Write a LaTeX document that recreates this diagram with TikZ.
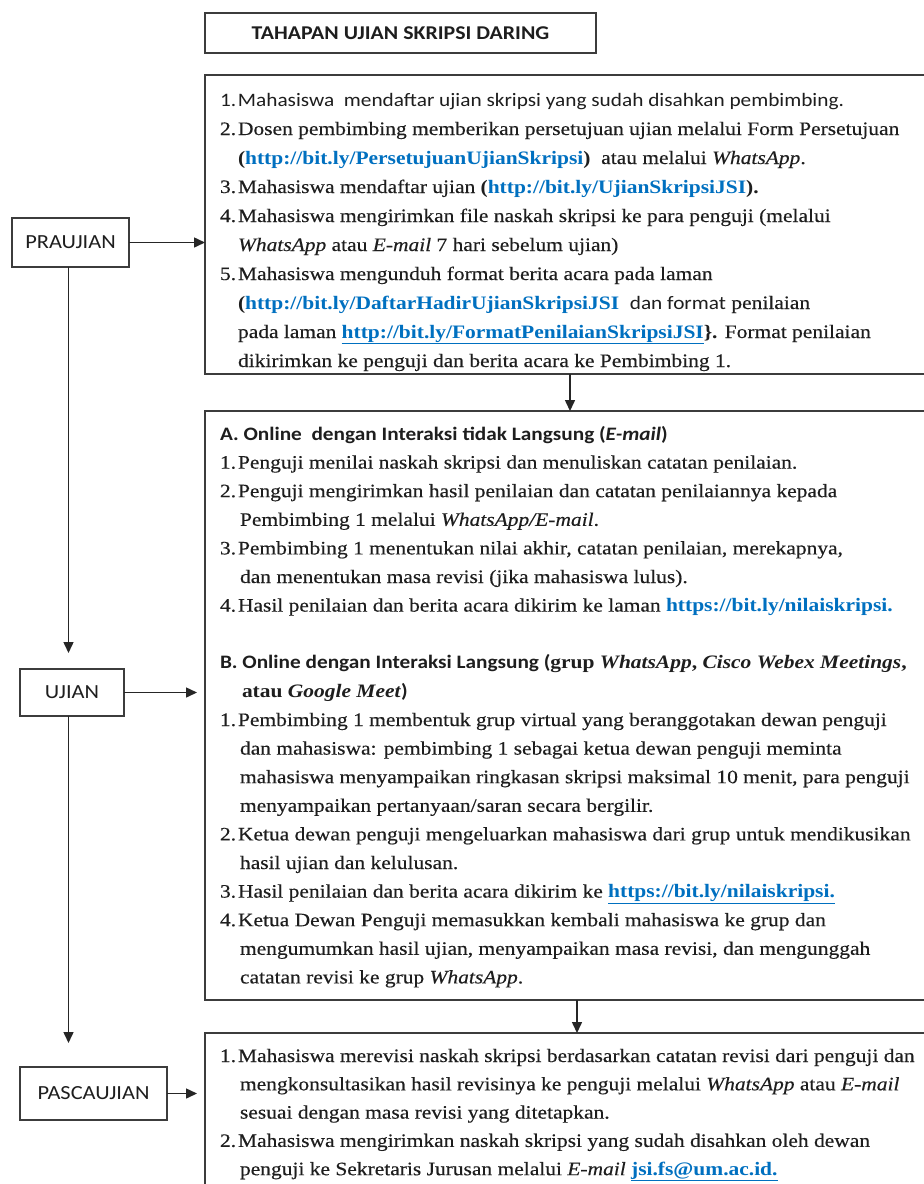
\documentclass[tikz,border=0pt]{standalone}
\usepackage{fontspec}
\setmainfont{Liberation Serif}[FakeStretch=1.13, UprightFeatures={FakeBold=0.3}, ItalicFeatures={FakeBold=0.3}]
\newfontfamily\calib{Carlito}[FakeStretch=1.12]
\usetikzlibrary{arrows.meta}
\definecolor{linkblue}{RGB}{0,112,192}
\definecolor{boxline}{RGB}{60,60,60}
\definecolor{txtc}{RGB}{30,30,30}
\newcommand\lk[1]{\textcolor{linkblue}{\textbf{#1}}}
\newcommand\ulk[1]{\textcolor{linkblue}{\underline{\textbf{#1}}}}
\newcommand\nb[1]{\makebox[18pt][l]{#1}}
\newcommand\Ln[4]{\node[ln] (#1) at (#2,#3) {#4};}
\tikzset{
  box/.style={draw=boxline, line width=1.4pt, inner sep=0pt, outer sep=0pt, anchor=north west},
  lbl/.style={box, font=\calib\fontsize{20}{24}\selectfont, text=txtc},
  ln/.style={anchor=base west, inner sep=0pt, outer sep=0pt, font=\fontsize{19}{23}\selectfont, text=txtc},
  arr/.style={draw=black!85, line width=1.5pt, -{Triangle[length=11pt,width=10pt]}},
}
\begin{document}
\begin{tikzpicture}[x=1pt,y=-1pt]
\useasboundingbox (0,0) rectangle (924,1184);
\clip (0,0) rectangle (924,1184);
\fill[white] (0,0) rectangle (924,1184);

% boxes
\node[box, minimum width=391pt, minimum height=40pt, font=\calib\bfseries\fontsize{19.5}{23}\selectfont, text=txtc] (title) at (205,13) {TAHAPAN UJIAN SKRIPSI DARING};
\node[box, minimum width=730pt, minimum height=299pt] (b1) at (205,75) {};
\node[box, minimum width=744pt, minimum height=589pt] (b2) at (205,411) {};
\node[box, minimum width=744pt, minimum height=180pt] (b3) at (205,1033) {};
\node[lbl, minimum width=117pt, minimum height=49pt] (pra) at (12,218) {PRAUJIAN};
\node[lbl, minimum width=104pt, minimum height=47pt] (uj) at (20,669) {UJIAN};
\node[lbl, minimum width=147pt, minimum height=53pt] (pasc) at (20,1067) {PASCAUJIAN};
\coordinate (col) at (68.5,0);

% connectors
\draw[arr] (pra.east) -- (pra.east -| b1.west);
\draw[arr, shorten >=8pt] (uj.east) -- (uj.east -| b2.west);
\draw[arr, shorten >=8pt] (pasc.east) -- (pasc.east -| b3.west);
\draw[arr, shorten >=16pt] (pra.south -| col) -- (col |- uj.north);
\draw[arr, shorten >=24pt] (uj.south -| col) -- (col |- pasc.north);
\draw[arr] (b1.south) -- (b1.south |- b2.north);
\draw[arr] (b2.south) -- (b2.south |- b3.north);

% box 1 text
\begin{scope}
\clip (b1.north west) rectangle (b1.south east);
\Ln{p1}{220}{106}{{\calib\nb{1.}Mahasiswa\ \ mendaftar ujian skripsi yang sudah disahkan pembimbing.}}
\Ln{p2}{220}{135}{\nb{2.}Dosen pembimbing memberikan persetujuan ujian melalui Form Persetujuan}
\Ln{p2b}{238}{164}{\textbf{(}\lk{http://bit.ly/PersetujuanUjianSkripsi}\textbf{)}\ \ atau melalui \textit{WhatsApp}.}
\Ln{p3}{220}{193}{\nb{3.}Mahasiswa mendaftar ujian \textbf{(}\lk{http://bit.ly/UjianSkripsiJSI}\textbf{).}}
\Ln{p4}{220}{222}{\nb{4.}Mahasiswa mengirimkan file naskah skripsi ke para penguji (melalui}
\Ln{p4b}{238}{251}{\textit{WhatsApp} atau \textit{E-mail} 7 hari sebelum ujian)}
\Ln{p5}{220}{280}{\nb{5.}Mahasiswa mengunduh format berita acara pada laman}
\Ln{p5b}{238}{309}{\textbf{(}\lk{http://bit.ly/DaftarHadirUjianSkripsiJSI}\ \ {\calib dan format} penilaian}
\Ln{p5c}{238}{338}{pada laman \ulk{http://bit.ly/FormatPenilaianSkripsiJSI}\textbf{\}.} Format penilaian}
\Ln{p5d}{238}{367}{dikirimkan ke penguji dan berita acara ke Pembimbing 1.}
\end{scope}

% box 2 text
\Ln{ah}{220}{440}{{\calib\bfseries A. Online\ \ dengan Interaksi tidak Langsung (\textit{E-mail})}}
\Ln{a1}{220}{468.6}{\nb{1.}Penguji menilai naskah skripsi dan menuliskan catatan penilaian.}
\Ln{a2}{220}{497.2}{\nb{2.}Penguji mengirimkan hasil penilaian dan catatan penilaiannya kepada}
\Ln{a2b}{240}{525.8}{Pembimbing 1 melalui \textit{WhatsApp/E-mail}.}
\Ln{a3}{220}{554.4}{\nb{3.}Pembimbing 1 menentukan nilai akhir, catatan penilaian, merekapnya,}
\Ln{a3b}{240}{583}{dan menentukan masa revisi (jika mahasiswa lulus).}
\Ln{a4}{220}{611.6}{\nb{4.}Hasil penilaian dan berita acara dikirim ke laman \lk{https://bit.ly/nilaiskripsi.}}
\Ln{bh}{220}{668.8}{{\calib\bfseries B. Online dengan Interaksi Langsung (}\textbf{grup \textit{WhatsApp}, \textit{Cisco Webex Meetings},}}
\Ln{bhb}{242}{697.4}{\textbf{atau \textit{Google Meet}}{\calib\bfseries )}}
\Ln{c1}{220}{726}{\nb{1.}Pembimbing 1 membentuk grup virtual yang beranggotakan dewan penguji}
\Ln{c1b}{240}{754.6}{dan mahasiswa: pembimbing 1 sebagai ketua dewan penguji meminta}
\Ln{c1c}{240}{783.2}{mahasiswa menyampaikan ringkasan skripsi maksimal 10 menit, para penguji}
\Ln{c1d}{240}{811.8}{menyampaikan pertanyaan/saran secara bergilir.}
\Ln{c2}{220}{840.4}{\nb{2.}Ketua dewan penguji mengeluarkan mahasiswa dari grup untuk mendikusikan}
\Ln{c2b}{240}{869}{hasil ujian dan kelulusan.}
\Ln{c3}{220}{897.6}{\nb{3.}Hasil penilaian dan berita acara dikirim ke \ulk{https://bit.ly/nilaiskripsi.}}
\Ln{c4}{220}{926.2}{\nb{4.}Ketua Dewan Penguji memasukkan kembali mahasiswa ke grup dan}
\Ln{c4b}{240}{954.8}{mengumumkan hasil ujian, menyampaikan masa revisi, dan mengunggah}
\Ln{c4c}{240}{983.4}{catatan revisi ke grup \textit{WhatsApp}.}

% box 3 text
\Ln{d1}{220}{1062}{\nb{1.}Mahasiswa merevisi naskah skripsi berdasarkan catatan revisi dari penguji dan}
\Ln{d1b}{240}{1090.3}{mengkonsultasikan hasil revisinya ke penguji melalui \textit{WhatsApp} atau \textit{E-mail}}
\Ln{d1c}{240}{1118.6}{sesuai dengan masa revisi yang ditetapkan.}
\Ln{d2}{220}{1146.9}{\nb{2.}Mahasiswa mengirimkan naskah skripsi yang sudah disahkan oleh dewan}
\Ln{d2b}{240}{1175.2}{penguji ke Sekretaris Jurusan melalui \textit{E-mail} \ulk{jsi.fs@um.ac.id.}}
\end{tikzpicture}
\end{document}
